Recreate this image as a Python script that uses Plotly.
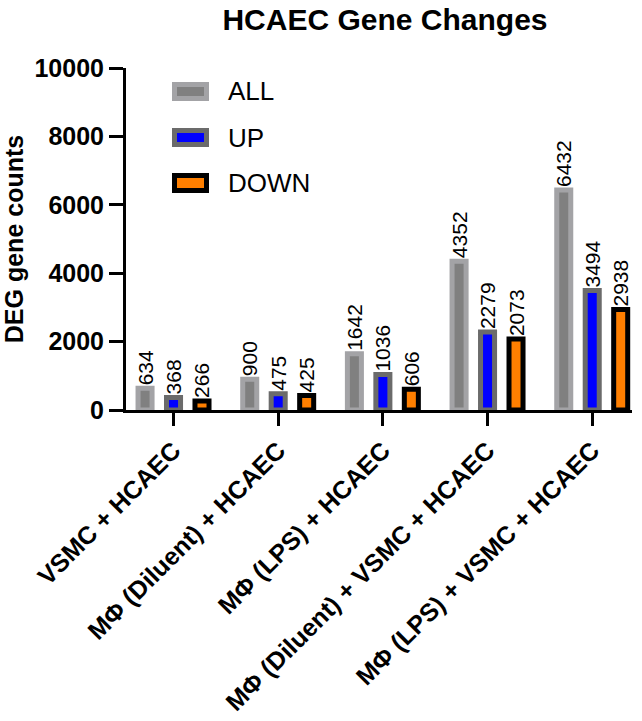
import plotly.graph_objects as go

categories = ["VSMC + HCAEC", "MΦ (Diluent) + HCAEC", "MΦ (LPS) + HCAEC",
              "MΦ (Diluent) + VSMC + HCAEC", "MΦ (LPS) + VSMC + HCAEC"]
all_vals = [634, 900, 1642, 4352, 6432]
up_vals = [368, 475, 1036, 2279, 3494]
down_vals = [266, 425, 606, 2073, 2938]
series_names = ["ALL", "UP", "DOWN"]

FONT = "Liberation Sans, Arial, sans-serif"
W, H = 642, 721
ML, MR, MT, MB = 126, 10, 68, 311
PW, PH = W - ML - MR, H - MT - MB

styles = [
    dict(fill="#808080", line="#a3a3a6"),
    dict(fill="#0000ff", line="#6b6b6b"),
    dict(fill="#ff7f00", line="#000000"),
]
bw = 0.134
centers = [-0.272, 0.0, 0.272]

fig = go.Figure()
for vals, name, st, c in zip([all_vals, up_vals, down_vals], series_names, styles, centers):
    fig.add_trace(go.Bar(
        x=categories, y=vals, name=name, width=bw, offset=c - bw / 2,
        marker=dict(color=st["fill"], line=dict(color=st["line"], width=5)),
        text=[str(v) for v in vals], textposition="outside", textangle=-90,
        textfont=dict(family=FONT, size=21, color="#000000"),
        cliponaxis=False, showlegend=False, hoverinfo="skip",
    ))

def px(xp):
    return (xp - ML) / PW

def py(yp):
    return (H - MB - yp) / PH

shapes = []
annotations = []
leg_rows = [(82, 101), (128, 147), (173, 193)]
for (y0, y1), name, st in zip(leg_rows, series_names, styles):
    lw = 5
    shapes.append(dict(type="rect", xref="paper", yref="paper",
                       x0=px(172 + lw / 2), x1=px(209 - lw / 2),
                       y0=py(y1 - lw / 2), y1=py(y0 + lw / 2),
                       fillcolor=st["fill"], line=dict(color=st["line"], width=lw)))
    annotations.append(dict(text=name, xref="paper", yref="paper",
                            x=px(226), y=py((y0 + y1) / 2), xanchor="left", yanchor="middle",
                            showarrow=False, font=dict(family=FONT, size=26, color="#000")))

fig.update_layout(
    width=W, height=H,
    margin=dict(l=ML, r=MR, t=MT, b=MB),
    plot_bgcolor="white", paper_bgcolor="white",
    barmode="overlay",
    uniformtext=dict(minsize=21, mode="show"),
    title=dict(text="<b>HCAEC Gene Changes</b>", x=385 / W, xref="container", xanchor="center",
               y=1 - 19 / H, yref="container", yanchor="middle",
               font=dict(family=FONT, size=30, color="#000")),
    shapes=shapes, annotations=annotations,
    xaxis=dict(
        type="category", range=[-0.454, 4.38], automargin=False,
        showline=True, linecolor="#000", linewidth=3,
        ticks="outside", ticklen=13, tickwidth=3, tickcolor="#000",
        tickangle=-45, tickfont=dict(family=FONT, size=25, color="#000", weight="bold"),
        showgrid=False, zeroline=False,
    ),
    yaxis=dict(
        range=[0, 10000], dtick=2000, tickformat="d", automargin=False,
        showline=True, linecolor="#000", linewidth=3,
        ticks="outside", ticklen=14, tickwidth=3, tickcolor="#000",
        tickfont=dict(family=FONT, size=25, color="#000", weight="bold"),
        title=dict(text="<b>DEG gene counts</b>", font=dict(family=FONT, size=25, color="#000"),
                   standoff=22),
        showgrid=False, zeroline=False,
    ),
)

fig.write_html("out.html", config={"displayModeBar": False},
               post_script="document.body.style.margin='0px';document.body.style.overflow='hidden';")
